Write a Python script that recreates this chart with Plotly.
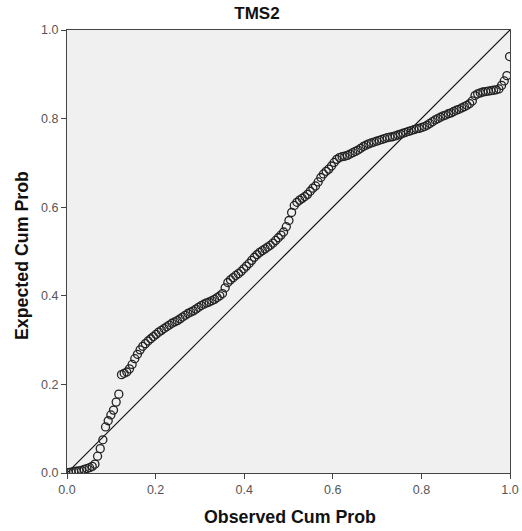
import plotly.graph_objects as go

title_text = "TMS2"
x_title = "Observed Cum Prob"
y_title = "Expected Cum Prob"
tick_vals = [0.0, 0.2, 0.4, 0.6, 0.8, 1.0]
tick_text = ["0.0", "0.2", "0.4", "0.6", "0.8", "1.0"]

observed = [
    0.003, 0.009, 0.015, 0.021, 0.027, 0.033, 0.039, 0.045, 0.051, 0.057,
    0.063, 0.069, 0.075, 0.081, 0.087, 0.093, 0.099, 0.105, 0.111, 0.117,
    0.123, 0.129, 0.135, 0.141, 0.147, 0.153, 0.159, 0.165, 0.171, 0.177,
    0.183, 0.189, 0.195, 0.201, 0.207, 0.213, 0.219, 0.225, 0.231, 0.237,
    0.243, 0.249, 0.255, 0.261, 0.267, 0.273, 0.279, 0.285, 0.291, 0.297,
    0.303, 0.309, 0.315, 0.321, 0.327, 0.333, 0.339, 0.345, 0.351, 0.357,
    0.363, 0.369, 0.375, 0.381, 0.387, 0.393, 0.399, 0.405, 0.411, 0.417,
    0.423, 0.429, 0.435, 0.441, 0.447, 0.453, 0.459, 0.465, 0.471, 0.477,
    0.483, 0.489, 0.495, 0.501, 0.507, 0.513, 0.519, 0.525, 0.531, 0.537,
    0.543, 0.549, 0.555, 0.561, 0.567, 0.573, 0.579, 0.585, 0.591, 0.597,
    0.603, 0.609, 0.615, 0.621, 0.627, 0.633, 0.639, 0.645, 0.651, 0.657,
    0.663, 0.669, 0.675, 0.681, 0.687, 0.693, 0.699, 0.705, 0.711, 0.717,
    0.723, 0.729, 0.735, 0.741, 0.747, 0.753, 0.759, 0.765, 0.771, 0.777,
    0.783, 0.789, 0.795, 0.801, 0.807, 0.813, 0.819, 0.825, 0.831, 0.837,
    0.843, 0.849, 0.855, 0.861, 0.867, 0.873, 0.879, 0.885, 0.891, 0.897,
    0.903, 0.909, 0.915, 0.921, 0.927, 0.933, 0.939, 0.945, 0.951, 0.957,
    0.963, 0.969, 0.975, 0.981, 0.987, 0.993, 0.999,
]

expected = [
    0.001, 0.002, 0.003, 0.004, 0.005, 0.006, 0.008, 0.010, 0.012, 0.015,
    0.020, 0.038, 0.055, 0.075, 0.104, 0.118, 0.131, 0.142, 0.160, 0.178,
    0.222, 0.225, 0.228, 0.235, 0.245, 0.258, 0.268, 0.278, 0.286, 0.292,
    0.298, 0.303, 0.308, 0.313, 0.318, 0.322, 0.326, 0.330, 0.334, 0.338,
    0.341, 0.344, 0.348, 0.352, 0.356, 0.360, 0.363, 0.366, 0.370, 0.374,
    0.378, 0.381, 0.384, 0.386, 0.389, 0.392, 0.396, 0.400, 0.405, 0.418,
    0.430, 0.436, 0.441, 0.446, 0.450, 0.455, 0.461, 0.467, 0.473, 0.480,
    0.487, 0.493, 0.498, 0.502, 0.506, 0.510, 0.514, 0.519, 0.525, 0.531,
    0.537, 0.544, 0.556, 0.570, 0.588, 0.604, 0.611, 0.616, 0.620, 0.624,
    0.629, 0.636, 0.643, 0.648, 0.657, 0.667, 0.675, 0.681, 0.686, 0.693,
    0.701, 0.708, 0.712, 0.714, 0.715, 0.717, 0.720, 0.723, 0.726, 0.729,
    0.733, 0.737, 0.740, 0.743, 0.745, 0.747, 0.749, 0.751, 0.753, 0.755,
    0.757, 0.758, 0.759, 0.761, 0.763, 0.765, 0.767, 0.769, 0.771, 0.773,
    0.775, 0.777, 0.778, 0.780, 0.782, 0.785, 0.789, 0.793, 0.797, 0.800,
    0.803, 0.806, 0.808, 0.811, 0.813, 0.816, 0.819, 0.821, 0.824, 0.827,
    0.830, 0.834, 0.840, 0.852, 0.856, 0.858, 0.860, 0.861, 0.862, 0.863,
    0.864, 0.865, 0.867, 0.875, 0.885, 0.897, 0.940,
]

ref_line = [0.0, 1.0]

font_family = "Arial, 'Liberation Sans', sans-serif"

fig = go.Figure()
fig.add_trace(go.Scatter(
    x=ref_line, y=ref_line, mode="lines",
    line=dict(color="#111111", width=1.2),
    hoverinfo="skip", showlegend=False,
))
fig.add_trace(go.Scatter(
    x=observed, y=expected, mode="markers",
    marker=dict(symbol="circle-open", size=8, color="#222222",
                line=dict(color="#222222", width=1.3)),
    showlegend=False,
))

axis_common = dict(
    range=[0, 1], tickvals=tick_vals, ticktext=tick_text,
    showgrid=False, zeroline=False,
    showline=True, linecolor="#444444", linewidth=1.2, mirror=True,
    ticks="outside", ticklen=5, tickcolor="#444444", tickwidth=1,
    tickfont=dict(family=font_family, size=12.5, color="#555555"),
    fixedrange=True, automargin=False,
)

fig.update_layout(
    width=522, height=531,
    margin=dict(l=67, r=12, t=30, b=58),
    paper_bgcolor="white", plot_bgcolor="#F0F0F0",
    title=dict(text=f"<b>{title_text}</b>", x=257 / 522, xanchor="center",
               xref="container", y=1 - 13 / 531, yanchor="middle",
               yref="container",
               font=dict(family=font_family, size=17, color="#111111")),
    xaxis=axis_common,
    yaxis=axis_common,
    annotations=[
        dict(text=f"<b>{x_title}</b>", xref="paper", yref="paper",
             x=0.503, y=-0.099, xanchor="center", yanchor="middle",
             showarrow=False,
             font=dict(family=font_family, size=17.8, color="#111111")),
        dict(text=f"<b>{y_title}</b>", xref="paper", yref="paper",
             x=-0.1016, y=0.492, xanchor="center", yanchor="middle",
             textangle=-90, showarrow=False,
             font=dict(family=font_family, size=17.8, color="#111111")),
    ],
)

fig.write_html(
    "out.html",
    config={"displayModeBar": False},
    post_script="document.body.style.margin='0';"
                "document.body.style.overflow='hidden';",
)
